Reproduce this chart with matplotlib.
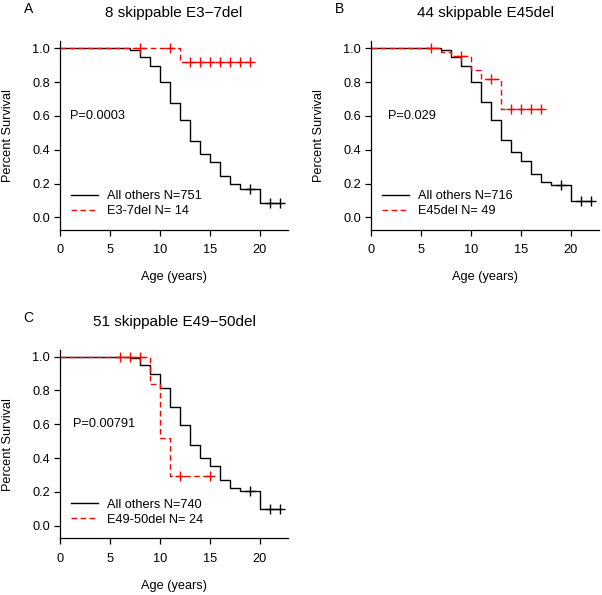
import numpy as np
import matplotlib
matplotlib.use("Agg")
import matplotlib.pyplot as plt

plt.rcParams["font.family"] = ["Liberation Sans", "DejaVu Sans"]

# ---- data ----
# panel A: 8 skippable E3-7del
a_other_times = [7, 8, 9, 10, 11, 12, 13, 14, 15, 16, 17, 18, 20]
a_other_surv = [0.99, 0.95, 0.895, 0.80, 0.675, 0.577, 0.453, 0.375, 0.325, 0.246, 0.195, 0.17, 0.085]
a_other_cens = [19, 21, 22]
a_other_end = 22
a_del_times = [12]
a_del_surv = [0.916]
a_del_cens = [8, 11, 13, 14, 15, 16, 17, 18, 19]
a_del_end = 19

# panel B: 44 skippable E45del
b_other_times = [7, 8, 9, 10, 11, 12, 13, 14, 15, 16, 17, 18, 20]
b_other_surv = [0.99, 0.95, 0.895, 0.80, 0.68, 0.576, 0.458, 0.385, 0.335, 0.256, 0.209, 0.189, 0.095]
b_other_cens = [19, 21, 22]
b_other_end = 22
b_del_times = [7, 8, 10, 11, 13]
b_del_surv = [0.976, 0.953, 0.874, 0.82, 0.641]
b_del_cens = [6, 9, 12, 14, 15, 16, 17]
b_del_end = 17

# panel C: 51 skippable E49-50del
c_other_times = [7, 8, 9, 10, 11, 12, 13, 14, 15, 16, 17, 18, 20]
c_other_surv = [0.99, 0.951, 0.90, 0.815, 0.70, 0.596, 0.475, 0.40, 0.355, 0.27, 0.225, 0.205, 0.10]
c_other_cens = [19, 21, 22]
c_other_end = 22
c_del_times = [9, 10, 11]
c_del_surv = [0.836, 0.519, 0.294]
c_del_cens = [6, 7, 8, 12, 15]
c_del_end = 15

titles = ["8 skippable E3\u22127del", "44 skippable E45del", "51 skippable E49\u221250del"]
letters = ["A", "B", "C"]
pvalues = ["P=0.0003", "P=0.029", "P=0.00791"]
other_labels = ["All others N=751", "All others N=716", "All others N=740"]
del_labels = ["E3-7del N= 14", "E45del N= 49", "E49-50del N= 24"]

panels = [
    (a_other_times, a_other_surv, a_other_cens, a_other_end,
     a_del_times, a_del_surv, a_del_cens, a_del_end),
    (b_other_times, b_other_surv, b_other_cens, b_other_end,
     b_del_times, b_del_surv, b_del_cens, b_del_end),
    (c_other_times, c_other_surv, c_other_cens, c_other_end,
     c_del_times, c_del_surv, c_del_cens, c_del_end),
]

# axes rectangles in figure fraction and p-value text x position (years)
rects = [
    [0.0997, 0.6134, 0.3787, 0.3169],
    [0.6163, 0.6134, 0.3787, 0.3169],
    [0.0997, 0.0951, 0.3787, 0.3168],
]
p_x = [3.75, 4.1, 4.4]

FS = 9.2


def km_curve(ax, times, surv, cens, end, **kw):
    x = np.r_[0, times, end]
    y = np.r_[1.0, surv, surv[-1]]
    line, = ax.step(x, y, where="post", **kw)
    # survival at each censoring time
    idx = np.searchsorted(times, cens, side="right")
    cy = np.r_[1.0, surv][idx]
    ax.plot(cens, cy, linestyle="none", marker="+", markersize=6.5,
            markeredgewidth=1.0, color=kw.get("color"))
    return line


fig = plt.figure(figsize=(6.02, 5.95), dpi=100)

for i, p in enumerate(panels):
    ot, os_, oc, oe, dt, ds, dc, de = p
    ax = fig.add_axes(rects[i])
    l1 = km_curve(ax, ot, os_, oc, oe, color="black", lw=1.0)
    l2 = km_curve(ax, dt, ds, dc, de, color="red", lw=1.0,
                  linestyle=(0, (4, 2.5)))

    ax.set_xlim(0, 22.8)
    ax.set_ylim(-0.075, 1.04)
    ax.set_xticks([0, 5, 10, 15, 20])
    ax.set_yticks([0.0, 0.2, 0.4, 0.6, 0.8, 1.0])
    ax.set_yticklabels(["0.0", "0.2", "0.4", "0.6", "0.8", "1.0"])
    ax.spines["top"].set_visible(False)
    ax.spines["right"].set_visible(False)
    ax.tick_params(axis="x", length=4.3, width=0.9, pad=6, labelsize=FS)
    ax.tick_params(axis="y", length=4.1, width=0.9, pad=3, labelsize=FS)
    for s in ("left", "bottom"):
        ax.spines[s].set_linewidth(0.9)

    ax.set_xlabel("Age (years)", fontsize=FS, va="center")
    ax.xaxis.set_label_coords(0.5, -0.25)
    ax.set_ylabel("Percent Survival", fontsize=FS, va="center")
    ax.yaxis.set_label_coords(-0.23, 0.5)

    ax.text(p_x[i], 0.6, pvalues[i], fontsize=FS, ha="center", va="center")
    ax.text(0.5, 1.15, titles[i], transform=ax.transAxes, fontsize=11,
            ha="center", va="center")
    ax.text(-0.14, 1.17, letters[i], transform=ax.transAxes, fontsize=10,
            ha="center", va="center")

    ax.legend([l1, l2], [other_labels[i], del_labels[i]], loc="lower left",
              bbox_to_anchor=(0.048, 0.067), frameon=False, fontsize=FS,
              handlelength=2.1, handletextpad=0.75, labelspacing=0.25,
              borderpad=0, borderaxespad=0)

fig.savefig("out.png", dpi=100)
